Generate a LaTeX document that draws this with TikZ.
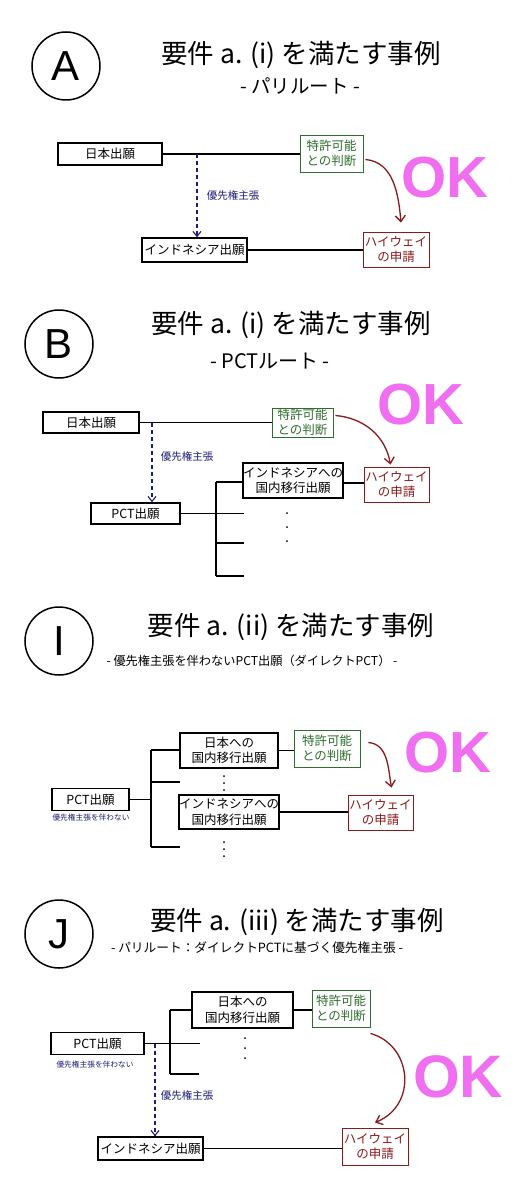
\documentclass[tikz,border=0pt]{standalone}
\usepackage{fontspec}
\setmainfont{Noto Sans CJK JP}
\newfontfamily\latf{Liberation Sans}
\usetikzlibrary{arrows.meta}
\definecolor{okgreen}{RGB}{46,110,46}
\definecolor{okred}{RGB}{139,26,26}
\definecolor{okblue}{RGB}{30,30,120}
\definecolor{okpink}{RGB}{240,110,240}
\tikzset{
  bx/.style={draw=black,line width=1.4pt,inner sep=0pt,align=center,font=\fontsize{12.5}{15.5}\selectfont},
  gbx/.style={draw=okgreen,text=okgreen,line width=0.9pt,inner sep=0pt,align=center,font=\fontsize{12.5}{15.5}\selectfont},
  rbx/.style={draw=okred,text=okred,line width=0.9pt,inner sep=0pt,align=center,font=\fontsize{12.5}{15.5}\selectfont},
  ln/.style={line width=1.4pt},
  dasharr/.style={draw=okblue,line width=1.1pt,dash pattern=on 4pt off 3pt,-{Straight Barb[length=5pt,width=8pt]}},
  curvarr/.style={draw=okred,line width=1.3pt,-{Straight Barb[length=6pt,width=10pt]}},
  circ/.style={circle,draw,line width=1.5pt,minimum size=68pt,inner sep=0pt,font=\latf\fontsize{42}{42}\selectfont},
  ttl/.style={inner sep=0pt,font=\fontsize{26.5}{30}\selectfont},
  sttl/.style={inner sep=0pt,font=\fontsize{19.5}{22}\selectfont},
  oklab/.style={inner sep=0pt,text=okpink,font=\latf\bfseries\fontsize{58}{58}\selectfont},
  prio/.style={inner sep=0pt,text=okblue,font=\fontsize{10.5}{12}\selectfont},
  small/.style={inner sep=0pt,text=okblue,font=\fontsize{7.7}{9}\selectfont},
}
\begin{document}
\begin{tikzpicture}[x=1pt,y=-1pt]
\useasboundingbox[fill=white] (0,0) rectangle (516,1177);

% ===== A =====
\node[circ] (cA) at (66,66) {A};
\node[ttl] (tA) at (301,55) {要件 a. (i) を満たす事例};
\node[sttl] (sA) at (300,86) {- パリルート -};
\node[bx,minimum width=104pt,minimum height=22pt] (A1) at (110,154) {日本出願};
\node[gbx,minimum width=63pt,minimum height=37pt] (A2) at (331.5,153.5) {特許可能\\との判断};
\node[bx,minimum width=105pt,minimum height=24pt] (A3) at (194.5,250) {インドネシア出願};
\node[rbx,minimum width=66pt,minimum height=35pt] (A4) at (396,249.5) {ハイウェイ\\の申請};
\node[oklab] (okA) at (445,178) {OK};
\node[prio] (pA) at (233,196) {優先権主張};
\draw[ln] (A1.east) -- (A1.east -| A2.west);
\draw[ln] (A3.east) -- (A3.east -| A4.west);
\coordinate (A5) at (197,154);
\draw[dasharr] (A5) -- (A5 |- A3.north);
\draw[curvarr] ([xshift=2pt,yshift=-6pt]A2.east) to[out=-5,in=95] ([xshift=5pt,yshift=9pt]A4.north);

% ===== B =====
\node[circ] (cB) at (59,344) {B};
\node[ttl] (tB) at (291,325) {要件 a. (i) を満たす事例};
\node[sttl,font=\fontsize{20}{22}\selectfont] (sB) at (270,361) {- PCTルート -};
\node[bx,minimum width=96pt,minimum height=21pt] (B1) at (91,422.5) {日本出願};
\node[gbx,minimum width=61pt,minimum height=29pt] (B2) at (302.5,422.5) {特許可能\\との判断};
\node[oklab] (okB) at (421,405) {OK};
\node[prio] (pB) at (187,457) {優先権主張};
\node[bx,minimum width=89pt,minimum height=21pt] (B3) at (135.5,513.5) {PCT出願};
\node[bx,minimum width=98pt,minimum height=35pt] (B4) at (293,480.5) {インドネシアへの\\国内移行出願};
\node[rbx,minimum width=65pt,minimum height=35pt] (B5) at (396.5,484.5) {ハイウェイ\\の申請};
\draw[ln] (B1.east) -- (B1.east -| B2.west);
\coordinate (B6) at (152,423);
\draw[dasharr] (B6) -- (B6 |- B3.north);
\coordinate (Bt1) at (216,482);
\coordinate (Bt2) at (216,513.5);
\coordinate (Bt3) at (216,543);
\coordinate (Bt4) at (216,576);
\draw[ln] (B3.east) -- (Bt2);
\draw[ln] (Bt1) -- (Bt4);
\draw[ln] (Bt1) -- (Bt1 -| B4.west);
\draw[ln] (Bt2) -- ++(28,0);
\draw[ln] (Bt3) -- ++(28,0);
\draw[ln] (Bt4) -- ++(28,0);
\draw[ln] ([yshift=-2.5pt]B4.east) -- ([yshift=-2.5pt]B4.east -| B5.west);
\foreach \yy in {513,527,541} \fill (287,\yy) circle (1pt);
\draw[curvarr] ([xshift=2pt,yshift=7pt]B2.east) to[out=-5,in=100] ([xshift=-6pt,yshift=2pt]B5.north);

% ===== I =====
\node[circ] (cI) at (59,641) {I};
\node[ttl] (tI) at (291,627) {要件 a. (ii) を満たす事例};
\node[sttl,font=\fontsize{12.2}{15}\selectfont] (sI) at (252,661) {- 優先権主張を伴わないPCT出願（ダイレクトPCT） -};
\node[bx,minimum width=98pt,minimum height=35pt] (I1) at (229,750.5) {日本への\\国内移行出願};
\node[gbx,minimum width=66pt,minimum height=37pt] (I2) at (327,748.5) {特許可能\\との判断};
\node[oklab] (okI) at (448,753) {OK};
\node[bx,minimum width=77pt,minimum height=22pt] (I3) at (90.5,799.5) {PCT出願};
\node[small] (lI) at (91,818) {優先権主張を伴わない};
\node[bx,minimum width=98pt,minimum height=34pt] (I4) at (229,812) {インドネシアへの\\国内移行出願};
\node[rbx,minimum width=65pt,minimum height=35pt] (I5) at (380.5,812.5) {ハイウェイ\\の申請};
\draw[ln] (I1.east) -- (I1.east -| I2.west);
\draw[ln] (I4.east) -- (I4.east -| I5.west);
\coordinate (It1) at (151,750);
\coordinate (It2) at (151,782);
\coordinate (It3) at (151,799.5);
\coordinate (It4) at (151,847);
\draw[ln] (It1) -- (It4);
\draw[ln] (I3.east) -- (It3);
\draw[ln] (It1) -- (It1 -| I1.west);
\draw[ln] (It2) -- ++(29,0);
\draw[ln] (It4) -- ++(29,0);
\foreach \yy in {776,783,790,842,849,856} \fill (224,\yy) circle (1pt);
\draw[curvarr] ([xshift=8pt,yshift=6pt]I2.east) to[out=-5,in=100] ([xshift=11pt,yshift=7pt]I5.north);

% ===== J =====
\node[circ] (cJ) at (59,934) {J};
\node[ttl] (tJ) at (297,922) {要件 a. (iii) を満たす事例};
\node[sttl,font=\fontsize{12.7}{15}\selectfont] (sJ) at (257,948) {- パリルート：ダイレクトPCTに基づく優先権主張 -};
\node[bx,minimum width=101pt,minimum height=36pt] (J1) at (242.5,1010) {日本への\\国内移行出願};
\node[gbx,minimum width=58pt,minimum height=37pt] (J2) at (341,1008.5) {特許可能\\との判断};
\node[bx,minimum width=93pt,minimum height=22pt] (J3) at (97.5,1043.5) {PCT出願};
\node[small] (lJ) at (95,1065) {優先権主張を伴わない};
\node[prio] (pJ) at (187,1095) {優先権主張};
\node[bx,minimum width=105pt,minimum height=23pt] (J4) at (150.5,1148.5) {インドネシア出願};
\node[rbx,minimum width=66pt,minimum height=37pt] (J5) at (375,1146.5) {ハイウェイ\\の申請};
\node[oklab,font=\latf\bfseries\fontsize{60}{60}\selectfont] (okJ) at (458,1077) {OK};
\draw[ln] (J1.east) -- (J1.east -| J2.west);
\draw[ln] (J4.east) -- (J4.east -| J5.west);
\coordinate (Jt1) at (170,1010);
\coordinate (Jt2) at (170,1043.5);
\coordinate (Jt3) at (170,1074);
\draw[ln] (Jt1) -- (Jt3);
\draw[ln] (Jt1) -- (Jt1 -| J1.west);
\draw[ln] (J3.east) -- ++(55,0);
\draw[ln] (Jt3) -- ++(29,0);
\foreach \yy in {1038,1048,1058} \fill (245,\yy) circle (1pt);
\coordinate (J6) at (155,1043.5);
\draw[dasharr] (J6) -- (J6 |- J4.north);
\draw[curvarr] ([yshift=-6pt]J2.south east) .. controls (412,1045) and (418,1105) .. ([yshift=5pt]J5.north);
\end{tikzpicture}
\end{document}
